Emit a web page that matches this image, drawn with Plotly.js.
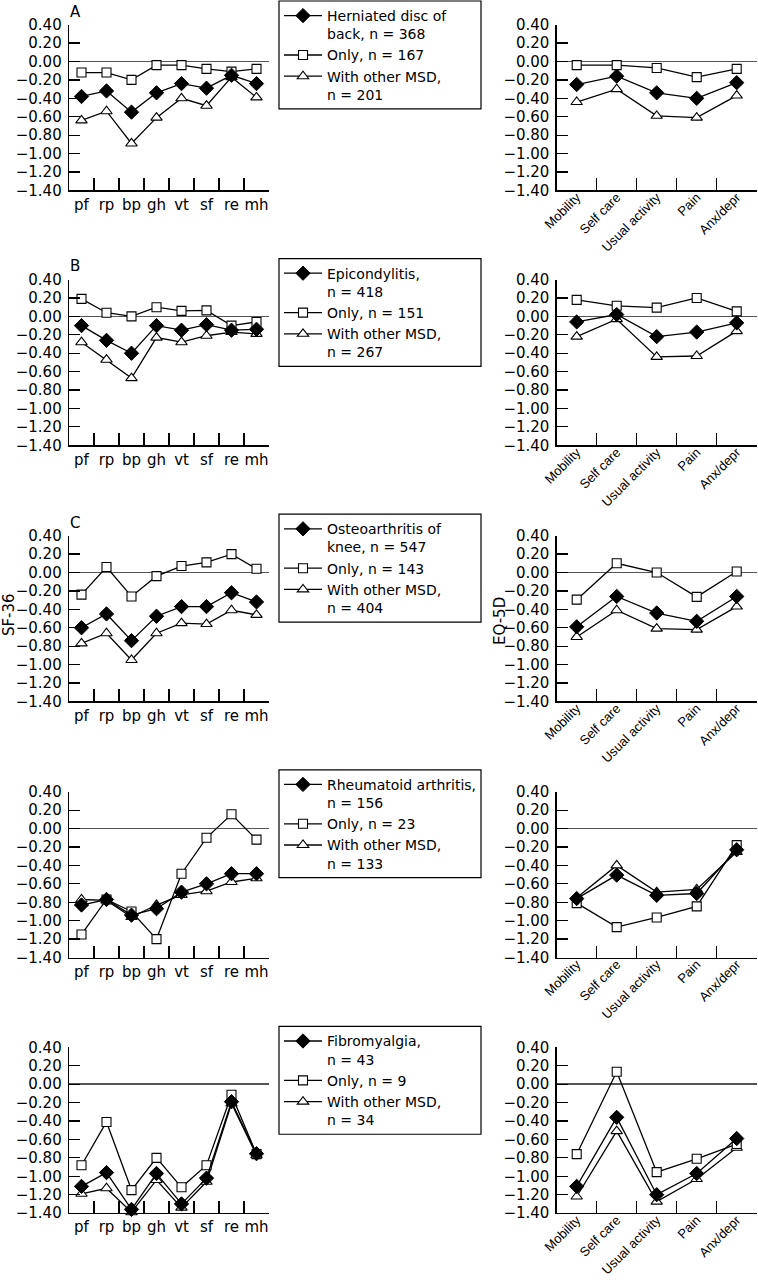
<!DOCTYPE html>
<html>
<head>
<meta charset="utf-8">
<script src="https://cdn.plot.ly/plotly-3.0.1.min.js"></script>
<style>html,body{margin:0;padding:0;background:#fff;}#chart{width:758px;height:1280px;}</style>
</head>
<body>
<div id="chart"></div>
<script>
// ---- categories ----
const sfCats = ['pf','rp','bp','gh','vt','sf','re','mh'];
const eqCats = ['Mobility','Self care','Usual activity','Pain','Anx/depr'];

// ---- panel letters ----
const panelLetters = ['A','B','C','',''];

// ---- legend labels ----
const namesA = ['Herniated disc of<br>back, n = 368','Only, n = 167','With other MSD,<br>n = 201'];
const namesB = ['Epicondylitis,<br>n = 418','Only, n = 151','With other MSD,<br>n = 267'];
const namesC = ['Osteoarthritis of<br>knee, n = 547','Only, n = 143','With other MSD,<br>n = 404'];
const namesD = ['Rheumatoid arthritis,<br>n = 156','Only, n = 23','With other MSD,<br>n = 133'];
const namesE = ['Fibromyalgia,<br>n = 43','Only, n = 9','With other MSD,<br>n = 34'];

// ---- A: herniated disc of back ----
const sfA_all   = [-0.38,-0.32,-0.55,-0.34,-0.24,-0.29,-0.15,-0.24];
const sfA_only  = [-0.12,-0.12,-0.20,-0.04,-0.04,-0.08,-0.11,-0.08];
const sfA_other = [-0.64,-0.54,-0.89,-0.61,-0.40,-0.48,-0.17,-0.39];
const eqA_all   = [-0.25,-0.16,-0.34,-0.40,-0.23];
const eqA_only  = [-0.04,-0.04,-0.07,-0.17,-0.08];
const eqA_other = [-0.44,-0.30,-0.59,-0.61,-0.37];

// ---- B: epicondylitis ----
const sfB_all   = [-0.10,-0.26,-0.40,-0.10,-0.15,-0.09,-0.15,-0.14];
const sfB_only  = [0.19,0.04,0.00,0.10,0.06,0.065,-0.10,-0.06];
const sfB_other = [-0.28,-0.47,-0.67,-0.23,-0.28,-0.21,-0.17,-0.19];
const eqB_all   = [-0.06,0.02,-0.22,-0.17,-0.07];
const eqB_only  = [0.18,0.115,0.095,0.20,0.055];
const eqB_other = [-0.22,-0.03,-0.44,-0.43,-0.16];

// ---- C: osteoarthritis of knee ----
const sfC_all   = [-0.60,-0.45,-0.74,-0.475,-0.37,-0.37,-0.22,-0.32];
const sfC_only  = [-0.24,0.06,-0.26,-0.04,0.07,0.11,0.20,0.04];
const sfC_other = [-0.77,-0.66,-0.95,-0.66,-0.55,-0.56,-0.41,-0.46];
const eqC_all   = [-0.59,-0.26,-0.44,-0.53,-0.26];
const eqC_only  = [-0.295,0.10,0.00,-0.265,0.01];
const eqC_other = [-0.70,-0.41,-0.61,-0.62,-0.37];

// ---- D: rheumatoid arthritis ----
const sfD_all   = [-0.83,-0.77,-0.94,-0.87,-0.69,-0.60,-0.49,-0.49];
const sfD_only  = [-1.15,-0.77,-0.90,-1.20,-0.49,-0.10,0.155,-0.12];
const sfD_other = [-0.77,-0.78,-0.96,-0.83,-0.72,-0.68,-0.58,-0.54];
const eqD_all   = [-0.76,-0.505,-0.725,-0.705,-0.23];
const eqD_only  = [-0.81,-1.07,-0.965,-0.845,-0.18];
const eqD_other = [-0.75,-0.40,-0.69,-0.66,-0.255];

// ---- E: fibromyalgia ----
const sfE_all   = [-1.11,-0.96,-1.36,-0.97,-1.30,-1.02,-0.19,-0.755];
const sfE_only  = [-0.88,-0.41,-1.15,-0.80,-1.12,-0.88,-0.115,-0.76];
const sfE_other = [-1.19,-1.13,-1.39,-1.04,-1.34,-1.06,-0.21,-0.77];
const eqE_all   = [-1.11,-0.36,-1.20,-0.97,-0.59];
const eqE_only  = [-0.76,0.135,-0.955,-0.81,-0.65];
const eqE_other = [-1.22,-0.51,-1.275,-1.03,-0.69];

const rows = [
  {names:namesA, sf:[sfA_all,sfA_only,sfA_other], eq:[eqA_all,eqA_only,eqA_other]},
  {names:namesB, sf:[sfB_all,sfB_only,sfB_other], eq:[eqB_all,eqB_only,eqB_other]},
  {names:namesC, sf:[sfC_all,sfC_only,sfC_other], eq:[eqC_all,eqC_only,eqC_other]},
  {names:namesD, sf:[sfD_all,sfD_only,sfD_other], eq:[eqD_all,eqD_only,eqD_other]},
  {names:namesE, sf:[sfE_all,sfE_only,sfE_other], eq:[eqE_all,eqE_only,eqE_other]}
];

// ---- geometry (pixels) ----
const W = 758, H = 1280;
const FONT = '"DejaVu Sans", sans-serif';
const FONT2 = '"Liberation Sans", Arial, sans-serif';
const px = x => x / W;
const py = y => 1 - y / H;
const rowTops = [22.7, 278, 534.5, 791, 1047];
const plotH = 166;
const leftX = [69, 269];
const rightX = [556.7, 756.7];
const boxTops = [-1, 257, 513, 769, 1026];
const boxH = 108;
const letterY = [10.5, 264, 522];

const markerStyles = [
  {symbol:'diamond', size:11, color:'#000', line:{color:'#000', width:1}},
  {symbol:'square', size:9, color:'#fff', line:{color:'#000', width:1.1}},
  {symbol:'triangle-up', size:10, color:'#fff', line:{color:'#000', width:1.1}}
];

const data = [];
const layout = {
  width: W, height: H,
  margin: {l:0, r:0, t:0, b:0},
  paper_bgcolor: '#fff', plot_bgcolor: 'rgba(0,0,0,0)',
  font: {family: FONT, size: 14, color: '#000'},
  showlegend: true,
  shapes: [], annotations: []
};

function yAxis(r, anchor) {
  return {
    domain: [py(rowTops[r] + plotH), py(rowTops[r])],
    range: [-1.4, 0.4], tick0: 0, dtick: 0.2, tickformat: '.2f',
    ticks: 'inside', ticklen: 11, tickwidth: 1.2, tickcolor: '#000',
    showline: true, linecolor: '#000', linewidth: 1.3,
    showgrid: false, zeroline: true, zerolinecolor: '#555', zerolinewidth: 1.4,
    anchor: anchor, ticklabelstandoff: 3,
    tickfont: {family: FONT, size: 15, color: '#000'}, fixedrange: true
  };
}
function xAxis(r, anchor, n, xs, angle, font, standoff) {
  return {
    domain: [px(xs[0]), px(xs[1])], anchor: anchor,
    type: 'category', range: [-0.5, n - 0.5],
    tickson: 'boundaries', ticks: 'inside', ticklen: 12, tickwidth: 1.2, tickcolor: '#000',
    showline: true, linecolor: '#000', linewidth: 1.3, showgrid: false, zeroline: false,
    tickangle: angle, ticklabelstandoff: standoff,
    tickfont: font, fixedrange: true
  };
}

rows.forEach((row, r) => {
  const lx = 2*r + 1, rx = 2*r + 2;
  const lxName = lx === 1 ? 'x' : 'x' + lx, lyName = lx === 1 ? 'y' : 'y' + lx;
  const rxName = 'x' + rx, ryName = 'y' + rx;
  const legName = r === 0 ? 'legend' : 'legend' + (r + 1);
  layout[lx === 1 ? 'xaxis' : 'xaxis' + lx] = xAxis(r, lyName, sfCats.length, leftX, 0,
    {family: FONT, size: 15, color: '#000'}, 0);
  layout[lx === 1 ? 'yaxis' : 'yaxis' + lx] = yAxis(r, lxName);
  layout['xaxis' + rx] = xAxis(r, ryName, eqCats.length, rightX, -45,
    {family: FONT2, size: 13, color: '#000'}, -7);
  layout['yaxis' + rx] = yAxis(r, rxName);
  // draw order: triangle, square, diamond (legend reversed)
  [2, 1, 0].forEach(k => {
    data.push({
      type: 'scatter', mode: 'lines+markers', x: sfCats, y: row.sf[k],
      xaxis: lxName, yaxis: lyName, name: row.names[k], legend: legName,
      line: {color: '#000', width: 1.3}, marker: markerStyles[k],
      cliponaxis: false, hoverinfo: 'skip'
    });
    data.push({
      type: 'scatter', mode: 'lines+markers', x: eqCats, y: row.eq[k],
      xaxis: rxName, yaxis: ryName, name: row.names[k], showlegend: false,
      line: {color: '#000', width: 1.3}, marker: markerStyles[k],
      cliponaxis: false, hoverinfo: 'skip'
    });
  });
  layout[legName] = {
    x: px(279), y: py(boxTops[r] - 1), xanchor: 'left', yanchor: 'top',
    traceorder: 'reversed', valign: 'top', bgcolor: 'rgba(0,0,0,0)', borderwidth: 0,
    font: {family: FONT, size: 14, color: '#000'}, tracegroupgap: 0, itemwidth: 38
  };
  layout.shapes.push({
    type: 'rect', xref: 'paper', yref: 'paper',
    x0: px(279), x1: px(481), y0: py(boxTops[r]), y1: py(boxTops[r] + boxH),
    line: {color: '#000', width: 1.2}, fillcolor: 'rgba(0,0,0,0)'
  });
  if (panelLetters[r]) {
    layout.annotations.push({
      text: panelLetters[r], xref: 'paper', yref: 'paper',
      x: px(68), y: py(letterY[r]), xanchor: 'left', yanchor: 'middle',
      showarrow: false, font: {family: FONT, size: 15, color: '#000'}
    });
  }
});

layout.annotations.push({
  text: 'SF-36', xref: 'paper', yref: 'paper', x: px(9), y: py(614),
  xanchor: 'center', yanchor: 'middle', textangle: -90, showarrow: false,
  font: {family: FONT, size: 15, color: '#000'}
});
layout.annotations.push({
  text: 'EQ-5D', xref: 'paper', yref: 'paper', x: px(500), y: py(620),
  xanchor: 'center', yanchor: 'middle', textangle: -90, showarrow: false,
  font: {family: FONT, size: 15, color: '#000'}
});

Plotly.newPlot('chart', data, layout, {staticPlot: true, displayModeBar: false});
</script>
</body>
</html>
